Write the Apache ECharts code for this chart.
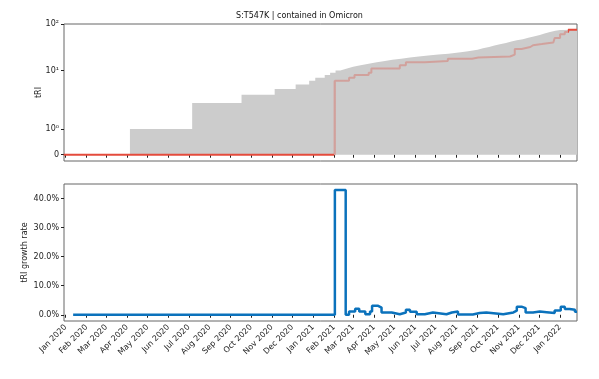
<!DOCTYPE html>
<html>
<head>
<meta charset="utf-8">
<title>S:T547K | contained in Omicron</title>
<script src="https://cdn.jsdelivr.net/npm/echarts@6/dist/echarts.min.js"></script>
<style>
    body { margin: 0; background: #fff; }
    #main { width: 599px; height: 379px; }
</style>
</head>
<body>
<div id="main"></div>
<script type="text/javascript">
// x range and month ticks
var xStart = '2019-12-29';
var xEnd = '2022-01-26';
var monthTicks = ['2020-01-01','2020-02-01','2020-03-01','2020-04-01','2020-05-01','2020-06-01',
    '2020-07-01','2020-08-01','2020-09-01','2020-10-01','2020-11-01','2020-12-01',
    '2021-01-01','2021-02-01','2021-03-01','2021-04-01','2021-05-01','2021-06-01',
    '2021-07-01','2021-08-01','2021-09-01','2021-10-01','2021-11-01','2021-12-01','2022-01-01'];
var monthNames = ['Jan','Feb','Mar','Apr','May','Jun','Jul','Aug','Sep','Oct','Nov','Dec'];

// grey band: total count
var totalDates = ['2020-04-05','2020-07-06','2020-09-17','2020-11-05','2020-12-06','2020-12-26',
    '2021-01-04','2021-01-18','2021-01-26','2021-02-03','2021-02-10','2021-02-20','2021-03-01',
    '2021-03-12','2021-03-24','2021-04-05','2021-04-17','2021-04-28','2021-05-11','2021-05-24',
    '2021-06-06','2021-06-20','2021-07-05','2021-07-20','2021-08-01','2021-08-10','2021-08-18',
    '2021-08-25','2021-09-01','2021-09-09','2021-09-18','2021-09-26','2021-10-04','2021-10-13',
    '2021-10-21','2021-10-29','2021-11-07','2021-11-15','2021-11-23','2021-12-02','2021-12-09',
    '2021-12-17','2021-12-25','2022-01-01','2022-01-26'];
var totalValues = [1, 2, 3, 4, 5, 6,
    7, 8, 9, 10, 11, 12, 13,
    14, 15, 16, 17, 18, 19, 20,
    21, 22, 23, 24, 25, 26, 27,
    28, 30, 32, 34.5, 36.5, 39, 42,
    44.5, 47, 50.5, 54, 58, 62.5, 67,
    72, 74, 75, 75];

// red line: tRI
var triDates = ['2019-12-29','2021-02-02','2021-02-23','2021-03-03','2021-03-24','2021-03-28',
    '2021-05-09','2021-05-18','2021-06-15','2021-07-19','2021-08-24','2021-09-02','2021-10-19',
    '2021-10-26','2021-11-05','2021-11-18','2021-11-22','2021-12-05','2021-12-22','2021-12-24',
    '2022-01-01','2022-01-08','2022-01-13','2022-01-26'];
var triValues = [0, 6, 7, 8, 9, 11,
    13, 15, 16, 18, 19, 20, 22,
    29, 32, 35, 37, 40, 42, 50,
    60, 67, 75, 75];

// blue line: tRI growth rate (%)
var rateDates = ['2020-01-12','2021-02-02','2021-02-18','2021-02-23','2021-03-04','2021-03-10',
    '2021-03-19','2021-03-26','2021-03-29','2021-04-07','2021-04-12','2021-04-27','2021-05-09',
    '2021-05-18','2021-05-24','2021-06-03','2021-06-15','2021-06-27','2021-07-17','2021-07-25',
    '2021-08-03','2021-08-25','2021-09-04','2021-09-14','2021-10-09','2021-10-24','2021-10-29',
    '2021-11-05','2021-11-11','2021-11-22','2021-12-02','2021-12-12','2021-12-24','2022-01-02',
    '2022-01-08','2022-01-15','2022-01-23','2022-01-26'];
var rateValues = [0, 42.9, 0, 1.1, 2.1, 1.1,
    0.2, 1.1, 3.1, 2.5, 0.8, 0.2, 0.8,
    1.7, 1.0, 0.2, 0.8, 0.2, 0.8, 1.1,
    0.1, 0.6, 0.8, 0.2, 0.8, 1.4, 2.8,
    2.3, 0.8, 1.1, 0.9, 0.6, 1.5, 2.8,
    2.0, 1.7, 1.0, 1.0];

var topTicks = [0, 1, 10, 100];
var topTickLabels = ['0', '10\u2070', '10\u00b9', '10\u00b2'];
var bottomTicks = [0, 10, 20, 30, 40];

function ts(s) {
    var p = s.split('-');
    return new Date(+p[0], +p[1] - 1, +p[2]).getTime();
}
// symmetric log, linthresh 2
function symlog(v) {
    var c = 2, adj = 10 / 9;
    return v <= c ? v * adj : c * (adj + Math.log10(v / c));
}
function pairs(dates, values, fn) {
    return dates.map(function (d, i) { return [ts(d), fn ? fn(values[i]) : values[i]]; });
}

var DAY = 24 * 3600 * 1000;
var xMin = ts(xStart) + DAY / 2;
var xMax = ts(xEnd);
var tickTimes = monthTicks.map(ts);
var topTickPos = topTicks.map(symlog);

var myChart = echarts.init(document.getElementById('main'));
var axisColor = '#222';
var redSolid = '#e44b3c';
var redFaint = 'rgba(220,70,55,0.32)';

function xAxisFor(idx, withLabels) {
    return {
        type: 'value', gridIndex: idx, min: xMin, max: xMax, scale: true,
        axisLine: { show: false },
        axisTick: { show: true, customValues: tickTimes, length: 3, lineStyle: { color: axisColor } },
        axisLabel: {
            show: withLabels, customValues: tickTimes, rotate: 45, fontSize: 8, color: axisColor, margin: 5,
            formatter: function (v) {
                var d = new Date(v + 6 * 3600 * 1000);
                return monthNames[d.getMonth()] + ' ' + d.getFullYear();
            }
        },
        splitLine: { show: false }
    };
}

var option = {
    animation: false,
    textStyle: { fontFamily: 'DejaVu Sans' },
    title: {
        text: 'S:T547K | contained in Omicron',
        left: 'center', top: 7,
        textStyle: { fontSize: 8, fontWeight: 'normal', color: '#111', fontFamily: 'DejaVu Sans' }
    },
    grid: [
        { left: 64, top: 24, width: 513, height: 137, show: true, borderColor: '#666', borderWidth: 1 },
        { left: 64, top: 184, width: 513, height: 137, show: true, borderColor: '#666', borderWidth: 1 }
    ],
    // red line is solid where it sits on the edges of the grey band, faint inside it
    visualMap: {
        type: 'piecewise', show: false, seriesIndex: 1, dimension: 0,
        pieces: [
            { lt: ts(triDates[1]) - DAY, color: redSolid },
            { gte: ts(triDates[1]) - DAY, lt: ts('2022-01-13'), color: redFaint },
            { gte: ts('2022-01-13'), color: redSolid }
        ]
    },
    xAxis: [xAxisFor(0, false), xAxisFor(1, true)],
    yAxis: [
        {
            type: 'value', gridIndex: 0, min: -0.27, max: symlog(100),
            name: 'tRI', nameLocation: 'middle', nameGap: 21, nameMoveOverlap: false,
            nameTextStyle: { fontSize: 8, color: axisColor },
            axisLine: { show: false },
            axisTick: { show: true, customValues: topTickPos, length: 3, lineStyle: { color: axisColor } },
            axisLabel: {
                customValues: topTickPos, fontSize: 8, color: axisColor, margin: 5,
                formatter: function (v) {
                    var best = 0;
                    for (var i = 1; i < topTickPos.length; i++) {
                        if (Math.abs(topTickPos[i] - v) < Math.abs(topTickPos[best] - v)) best = i;
                    }
                    return topTickLabels[best];
                }
            },
            splitLine: { show: false }
        },
        {
            type: 'value', gridIndex: 1, min: -2.14, max: 45.0,
            name: 'tRI growth rate', nameLocation: 'middle', nameGap: 35, nameMoveOverlap: false,
            nameTextStyle: { fontSize: 8, color: axisColor },
            axisLine: { show: false },
            axisTick: { show: true, customValues: bottomTicks, length: 3, lineStyle: { color: axisColor } },
            axisLabel: {
                customValues: bottomTicks, fontSize: 8, color: axisColor, margin: 5,
                formatter: function (v) { return v.toFixed(1) + '%'; }
            },
            splitLine: { show: false }
        }
    ],
    series: [
        {
            name: 'total', type: 'line', xAxisIndex: 0, yAxisIndex: 0,
            step: 'end', symbol: 'none', z: 1,
            lineStyle: { width: 0 },
            areaStyle: { color: '#cccccc', opacity: 1 },
            data: pairs(totalDates, totalValues, symlog)
        },
        {
            name: 'tRI', type: 'line', xAxisIndex: 0, yAxisIndex: 0,
            step: 'end', symbol: 'none', z: 2,
            lineStyle: { width: 2 },
            data: pairs(triDates, triValues, symlog)
        },
        {
            name: 'tRI growth rate', type: 'line', xAxisIndex: 1, yAxisIndex: 1,
            step: 'end', symbol: 'none',
            lineStyle: { color: '#0b72bc', width: 2.5 },
            data: pairs(rateDates, rateValues)
        }
    ]
};
myChart.setOption(option);
</script>
</body>
</html>
